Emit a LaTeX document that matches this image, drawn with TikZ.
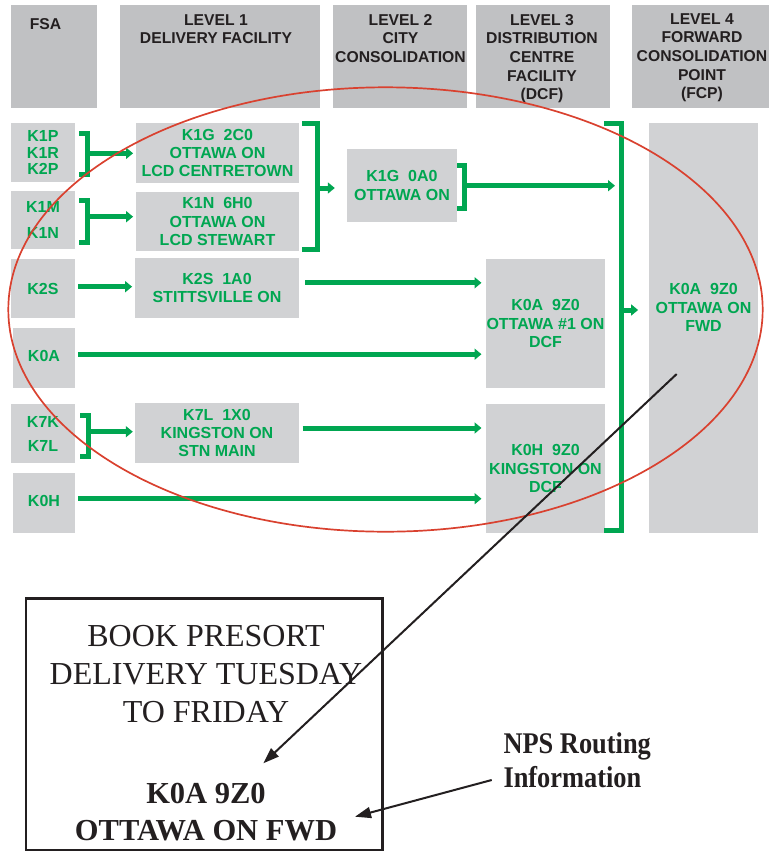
\documentclass[tikz,border=0pt]{standalone}
\usepackage{fontspec}
\setmainfont{Liberation Sans}
\newfontfamily\serifrm{Liberation Serif}
\usetikzlibrary{arrows.meta,calc}
\definecolor{hdrgray}{HTML}{C0C1C3}
\definecolor{boxgray}{HTML}{D1D2D4}
\definecolor{pgreen}{HTML}{00A651}
\definecolor{ellred}{HTML}{D9412F}
\definecolor{inkblack}{HTML}{231F20}
\begin{document}
\begin{tikzpicture}[x=1pt,y=-1pt,
  hdr/.style={fill=hdrgray, draw=none, inner sep=0pt},
  hdrtxt/.style={font=\bfseries\fontsize{15.7}{18.7}\selectfont, align=center, anchor=north, inner sep=0pt, text=inkblack},
  gbox/.style={fill=boxgray, draw=none, inner sep=0pt, text=pgreen, align=center,
     font=\bfseries\fontsize{16}{18.4}\selectfont},
  gtxt/.style={inner sep=0pt, text=pgreen, align=center, font=\bfseries\fontsize{16}{18.4}\selectfont},
  gline/.style={draw=pgreen, line width=5pt},
  garrow/.style={draw=pgreen, line width=5pt, -{Triangle[length=7pt,width=11pt]}},
  barrow/.style={draw=inkblack, line width=2pt, -{Triangle[length=16pt,width=11pt]}},
  serifbig/.style={inner sep=0pt, align=center, anchor=north, text=inkblack, font=\serifrm\fontsize{32}{38.3}\selectfont},
  serifbold/.style={inner sep=0pt, align=center, anchor=north, text=inkblack, font=\serifrm\bfseries\fontsize{30.5}{37}\selectfont},
]
\useasboundingbox (0,0) rectangle (772,852);

% header boxes
\node[hdr, minimum width=86, minimum height=103] (hfsa) at (54,56.5) {};
\node[hdr, minimum width=200, minimum height=103] (hl1) at (220,56.5) {};
\node[hdr, minimum width=134, minimum height=103] (hl2) at (400,56.5) {};
\node[hdr, minimum width=134, minimum height=103] (hl3) at (543,56.5) {};
\node[hdr, minimum width=137, minimum height=103] (hl4) at (700.5,56.5) {};
\node[hdrtxt] (tfsa) at (45.5,18) {FSA};
\node[hdrtxt] (tl1) at (216,14) {LEVEL 1\\DELIVERY FACILITY};
\node[hdrtxt] (tl2) at (400.5,14) {LEVEL 2\\CITY\\CONSOLIDATION};
\node[hdrtxt] (tl3) at (542,14) {LEVEL 3\\DISTRIBUTION\\CENTRE\\FACILITY\\(DCF)};
\node[hdrtxt] (tl4) at (702,13) {LEVEL 4\\FORWARD\\CONSOLIDATION\\POINT\\(FCP)};

% FSA boxes
\node[gbox, minimum width=64, minimum height=59, font=\bfseries\fontsize{16}{16.3}\selectfont] (f1) at (43,152.5) {K1P\\K1R\\K2P};
\node[gbox, minimum width=64, minimum height=58, font=\bfseries\fontsize{16}{26}\selectfont] (f2) at (43,220) {K1M\\K1N};
\node[gbox, minimum width=64, minimum height=59] (f3) at (43,288.5) {K2S};
\node[gbox, minimum width=62, minimum height=60] (f4) at (44,358) {\raisebox{4pt}{K0A}};
\node[gbox, minimum width=64, minimum height=59, font=\bfseries\fontsize{16}{24}\selectfont] (f5) at (43,433.5) {K7K\\K7L};
\node[gbox, minimum width=62, minimum height=60] (f6) at (44,503) {\raisebox{4pt}{K0H}};

% Level 1 boxes
\node[gbox, minimum width=163, minimum height=60] (d1) at (217.5,153) {K1G~~2C0\\OTTAWA ON\\LCD CENTRETOWN};
\node[gbox, minimum width=163, minimum height=59] (d2) at (217.5,221.5) {K1N~~6H0\\OTTAWA ON\\LCD STEWART};
\node[gbox, minimum width=164, minimum height=60] (d3) at (217,288) {K2S~~1A0\\STITTSVILLE ON};
\node[gbox, minimum width=164, minimum height=60] (d4) at (217,433) {K7L~~1X0\\KINGSTON ON\\STN MAIN};

% Level 2 box
\node[gbox, minimum width=110, minimum height=73] (c1) at (402,185.5) {K1G~~0A0\\OTTAWA ON};

% Level 3 boxes
\node[gbox, minimum width=119, minimum height=129] (dc1) at (545.5,323.5) {K0A~~9Z0\\OTTAWA \#1 ON\\DCF};
\node[gbox, minimum width=119, minimum height=129] (dc2) at (545.5,468.5) {K0H~~9Z0\\KINGSTON ON\\DCF};

% Level 4 box
\node[gbox, minimum width=109, minimum height=410] (fw) at (703.5,328) {};
\node[gtxt] (fwt) at (703.5,307.5) {K0A~~9Z0\\OTTAWA ON\\FWD};

% brackets and green connectors
\draw[gline] (79,133.3) -- (87.5,133.3) -- (87.5,174.5) -- (79,174.5);
\coordinate (b1) at (87.5,153.3);
\draw[garrow, shorten >=2.7pt] (b1) -- (b1 -| d1.west);

\draw[gline] (79,200.8) -- (87.5,200.8) -- (87.5,242.8) -- (79,242.8);
\coordinate (b2) at (87.5,216.7);
\draw[garrow, shorten >=2.7pt] (b2) -- (b2 -| d2.west);

\draw[gline] (80,415) -- (88.5,415) -- (88.5,456.7) -- (80,456.7);
\coordinate (b5) at (88.5,431.7);
\draw[garrow, shorten >=2pt] (b5) -- (b5 -| d4.west);

\coordinate (r3) at (78.3,286.7);
\draw[garrow, shorten >=2.7pt] (r3) -- (r3 -| d3.west);
\coordinate (r4) at (78.3,354.2);
\draw[garrow, shorten >=4.3pt] (r4) -- (r4 -| dc1.west);
\coordinate (r6) at (78.3,498.7);
\draw[garrow, shorten >=4.3pt] (r6) -- (r6 -| dc2.west);

\coordinate (s3) at (305,282.8);
\draw[garrow, shorten >=4.3pt] (s3) -- (s3 -| dc1.west);
\coordinate (s4) at (302.7,428);
\draw[garrow, shorten >=4.3pt] (s4) -- (s4 -| dc2.west);

% bracket from level 1 to level 2
\draw[gline] (302,123.3) -- (317.5,123.3) -- (317.5,249) -- (302,249);
\coordinate (bb1) at (317.5,188);
\draw[garrow, shorten >=12pt] (bb1) -- (bb1 -| c1.west);

% bracket after level 2
\draw[gline] (c1.east |- 0,165.5) -- (464,165.5) -- (464,208) -- (c1.east |- 0,208);
\coordinate (bb2) at (464,185.7);
\coordinate (bb3m) at (615,185.7);
\draw[garrow] (bb2) -- (bb3m);

% big bracket to level 4
\draw[gline] (604,123.7) -- (621.5,123.7) -- (621.5,530) -- (604,530);
\coordinate (bb3) at (621.5,310);
\draw[garrow, shorten >=10.7pt] (bb3) -- (bb3 -| fw.west);

% red ellipse
\draw[ellred, line width=1.7pt] (385.5,309.5) ellipse [x radius=377.2, y radius=222.2];

% bottom label
\node[draw=inkblack, line width=2.5pt, minimum width=356.5, minimum height=251.5, inner sep=0pt] (book) at (204.3,724.2) {};
\node[serifbig] (booktxt) at (206,625) {BOOK PRESORT\\DELIVERY TUESDAY\\TO FRIDAY};
\node[serifbold] (bookcode) at (206,783) {K0A 9Z0\\OTTAWA ON FWD};
\node[inner sep=0pt, align=left, anchor=north west, text=inkblack, font=\serifrm\bfseries\fontsize{30}{34}\selectfont] (nps) at (503.3,732) {\scalebox{0.88}[1]{NPS Routing}\\\scalebox{0.88}[1]{Information}};

% black pointer arrows
\coordinate (fwpt) at (676.7,374);
\coordinate (tip1) at (263.3,763.3);
\draw[barrow] (fwpt) -- (tip1);
\coordinate (npsa) at (491.7,780);
\coordinate (tip2) at (355,816.7);
\draw[barrow] (npsa) -- (tip2);
\end{tikzpicture}
\end{document}
